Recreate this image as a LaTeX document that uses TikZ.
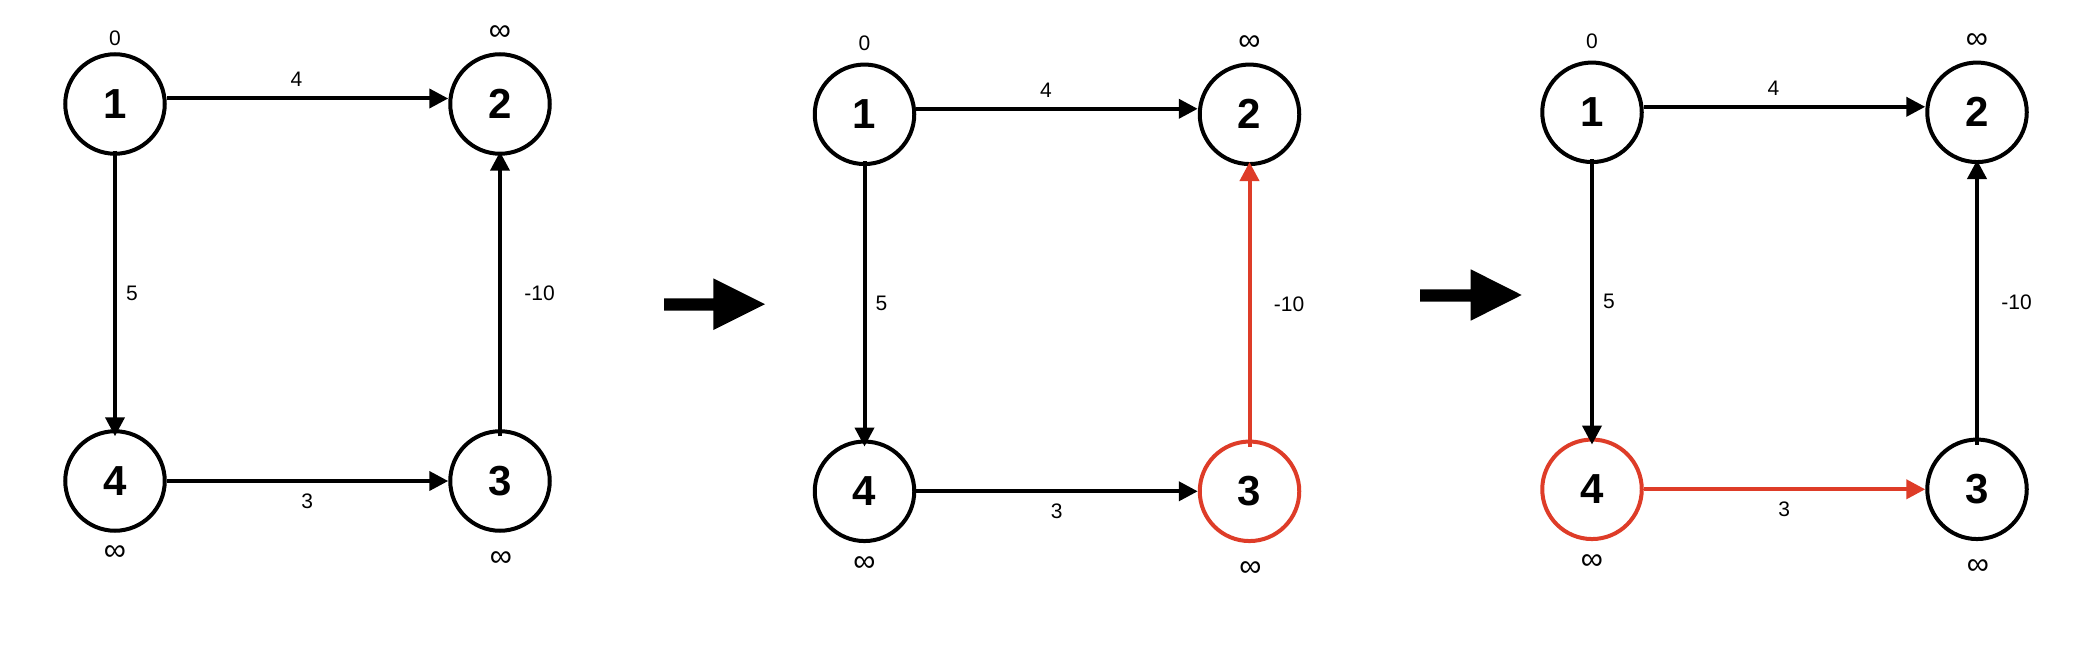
\documentclass[tikz,border=0pt]{standalone}
\usepackage{fontspec}
\setmainfont{Liberation Sans}
\usetikzlibrary{arrows.meta}
\definecolor{hired}{RGB}{222,60,40}
\tikzset{
  vtx/.style={circle, draw=black, line width=4pt, minimum size=99.5pt, inner sep=0pt,
              font=\fontsize{42}{48}\selectfont\bfseries},
  wt/.style={inner sep=0pt, font=\fontsize{21}{25}\selectfont},
  dist/.style={inner sep=0pt, font=\fontsize{31}{35}\selectfont},
  edge/.style={line width=4pt, -{Triangle[length=19pt,width=19pt]}},
  bigarrow/.style={fill=black},
}
% #1 prefix, #2 x, #3 y, #4 colour node 3, #5 colour node 4,
% #6 colour edge 3->2, #7 colour edge 4->3, #8 y of label 0
\newcommand{\bfpanel}[8]{%
  \begin{scope}[shift={(#2,#3)}]
    \node[vtx] (#1a) at (0,0) {1};
    \node[vtx] (#1b) at (385,0) {2};
    \node[vtx,draw=#4] (#1c) at (385,377) {3};
    \node[vtx,draw=#5] (#1d) at (0,377) {4};
    \draw[edge] ([yshift=5.5pt]#1a.east) -- ([yshift=5.5pt]#1b.west);
    \draw[edge] ([yshift=5pt]#1a.south) -- ([yshift=-7pt]#1d.north);
    \draw[edge,color=#6] ([yshift=-7pt]#1c.north) -- ([yshift=4pt]#1b.south);
    \draw[edge,color=#7] (#1d.east) -- (#1c.west);
    \node[wt] (#1w12) at (181.5,-24.5) {4};
    \node[wt] (#1w14) at (17,189) {5};
    \node[wt] (#1w32) at (424.5,189.5) {-10};
    \node[wt] (#1w43) at (192.3,397) {3};
    \node[wt] (#1l1) at (0,#8) {0};
    \node[dist] (#1l2) at (385,-71) {∞};
    \node[dist] (#1l4) at (0,449.3) {∞};
    \node[dist] (#1l3) at (386,455) {∞};
  \end{scope}}
\begin{document}
\begin{tikzpicture}[x=1pt,y=-1pt]
  \useasboundingbox (0,0) rectangle (2084,668);
  \fill[white] (0,0) rectangle (2084,668);
  \bfpanel{p}{115}{104}{black}{black}{black}{black}{-66}
  \bfpanel{q}{864.5}{114.3}{hired}{black}{hired}{black}{-71}
  \bfpanel{r}{1592}{112.3}{black}{hired}{black}{hired}{-70.6}
  \fill[bigarrow] (664,298.3) -- (713.3,298.3) -- (713.3,278.3) -- (765,304.2)
     -- (713.3,330) -- (713.3,310.7) -- (664,310.7) -- cycle;
  \fill[bigarrow] (1420,289.3) -- (1470.7,289.3) -- (1470.7,269.3) -- (1521.7,295)
     -- (1470.7,320.7) -- (1470.7,301.7) -- (1420,301.7) -- cycle;
\end{tikzpicture}
\end{document}
